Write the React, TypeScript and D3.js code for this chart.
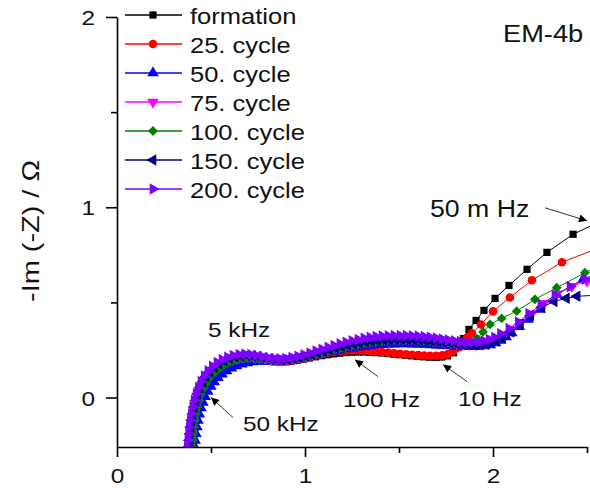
import React, { useEffect, useRef } from 'react';
import * as d3 from 'd3';

// axis ticks
const xTicks = [0, 1, 2];
const xMinorTicks = [0.5, 1.5, 2.5];
const yTicks = [0, 1, 2];
const yMinorTicks = [0.5, 1.5];

// Nyquist data, [Re(Z), -Im(Z)] in Ohm
const formation: [number, number][] = [
  [0.404, -0.26], [0.407, -0.225], [0.411, -0.19], [0.415, -0.155], [0.42, -0.12], [0.426, -0.085], [0.433, -0.05],
  [0.442, -0.015], [0.452, 0.016], [0.464, 0.045], [0.479, 0.073], [0.496, 0.098], [0.516, 0.121], [0.539, 0.141],
  [0.564, 0.158], [0.591, 0.172], [0.62, 0.183], [0.65, 0.19], [0.68, 0.194], [0.711, 0.196], [0.742, 0.195],
  [0.773, 0.193], [0.804, 0.19], [0.835, 0.188], [0.866, 0.187], [0.897, 0.188], [0.928, 0.191], [0.96, 0.196],
  [0.992, 0.202], [1.024, 0.208], [1.056, 0.214], [1.088, 0.22], [1.12, 0.225], [1.152, 0.229], [1.184, 0.233],
  [1.216, 0.236], [1.248, 0.238], [1.28, 0.239], [1.312, 0.239], [1.344, 0.238], [1.376, 0.236], [1.408, 0.234],
  [1.44, 0.231], [1.472, 0.228], [1.504, 0.225], [1.536, 0.222], [1.568, 0.219], [1.6, 0.216], [1.632, 0.214],
  [1.664, 0.212], [1.696, 0.211], [1.728, 0.213], [1.757, 0.219], [1.79, 0.235], [1.815, 0.265], [1.843, 0.31],
  [1.872, 0.358], [1.91, 0.405], [1.952, 0.458], [2.011, 0.521], [2.085, 0.589], [2.181, 0.674], [2.287, 0.763],
  [2.426, 0.858], [2.55, 0.916],
];

const cycle25: [number, number][] = [
  [0.406, -0.26], [0.409, -0.225], [0.413, -0.19], [0.417, -0.155], [0.422, -0.12], [0.428, -0.085], [0.435, -0.05],
  [0.444, -0.015], [0.454, 0.016], [0.466, 0.046], [0.481, 0.074], [0.498, 0.1], [0.518, 0.123], [0.541, 0.143],
  [0.566, 0.161], [0.593, 0.175], [0.622, 0.186], [0.652, 0.193], [0.682, 0.197], [0.713, 0.199], [0.744, 0.198],
  [0.775, 0.196], [0.806, 0.193], [0.837, 0.191], [0.868, 0.19], [0.899, 0.191], [0.93, 0.195], [0.962, 0.2],
  [0.994, 0.207], [1.026, 0.214], [1.058, 0.221], [1.09, 0.228], [1.122, 0.234], [1.154, 0.239], [1.186, 0.243],
  [1.218, 0.246], [1.25, 0.247], [1.282, 0.247], [1.314, 0.246], [1.346, 0.244], [1.378, 0.242], [1.41, 0.239],
  [1.442, 0.236], [1.474, 0.233], [1.506, 0.23], [1.538, 0.227], [1.57, 0.225], [1.602, 0.223], [1.634, 0.221],
  [1.666, 0.22], [1.698, 0.22], [1.73, 0.222], [1.76, 0.228], [1.788, 0.242], [1.812, 0.262], [1.836, 0.29],
  [1.862, 0.315], [1.888, 0.337], [1.936, 0.384], [2.0, 0.453], [2.09, 0.526], [2.207, 0.616], [2.367, 0.711],
  [2.55, 0.781],
];

const cycle50: [number, number][] = [
  [0.413, -0.26], [0.416, -0.225], [0.42, -0.19], [0.425, -0.155], [0.431, -0.12], [0.438, -0.087], [0.447, -0.055],
  [0.457, -0.025], [0.469, 0.004], [0.483, 0.032], [0.499, 0.058], [0.517, 0.082], [0.537, 0.104], [0.559, 0.123],
  [0.583, 0.14], [0.609, 0.154], [0.636, 0.166], [0.664, 0.175], [0.693, 0.182], [0.722, 0.187], [0.752, 0.19],
  [0.782, 0.191], [0.812, 0.191], [0.842, 0.191], [0.872, 0.191], [0.902, 0.193], [0.933, 0.197], [0.964, 0.202],
  [0.996, 0.208], [1.028, 0.215], [1.06, 0.222], [1.092, 0.229], [1.124, 0.236], [1.156, 0.243], [1.188, 0.249],
  [1.22, 0.255], [1.252, 0.26], [1.284, 0.265], [1.316, 0.269], [1.348, 0.273], [1.38, 0.276], [1.412, 0.278],
  [1.444, 0.28], [1.476, 0.281], [1.508, 0.282], [1.54, 0.282], [1.572, 0.281], [1.604, 0.28], [1.636, 0.279],
  [1.668, 0.277], [1.7, 0.275], [1.732, 0.273], [1.764, 0.271], [1.796, 0.269], [1.828, 0.268], [1.86, 0.267],
  [1.892, 0.267], [1.924, 0.268], [1.956, 0.271], [1.986, 0.277], [2.014, 0.287], [2.04, 0.3], [2.07, 0.318],
  [2.1, 0.34], [2.14, 0.372], [2.186, 0.41], [2.25, 0.463], [2.34, 0.542], [2.479, 0.621], [2.55, 0.65],
];

const cycle75: [number, number][] = [
  [0.389, -0.26], [0.392, -0.225], [0.396, -0.19], [0.4, -0.155], [0.405, -0.12], [0.411, -0.085], [0.418, -0.05],
  [0.427, -0.015], [0.437, 0.018], [0.449, 0.049], [0.464, 0.078], [0.481, 0.105], [0.501, 0.13], [0.524, 0.152],
  [0.549, 0.171], [0.576, 0.187], [0.605, 0.199], [0.635, 0.208], [0.665, 0.213], [0.696, 0.215], [0.727, 0.214],
  [0.758, 0.21], [0.789, 0.205], [0.82, 0.2], [0.851, 0.197], [0.882, 0.196], [0.913, 0.198], [0.945, 0.203],
  [0.977, 0.21], [1.009, 0.218], [1.041, 0.227], [1.073, 0.236], [1.105, 0.245], [1.137, 0.254], [1.169, 0.262],
  [1.201, 0.27], [1.233, 0.277], [1.265, 0.284], [1.297, 0.29], [1.329, 0.295], [1.361, 0.299], [1.393, 0.303],
  [1.425, 0.306], [1.457, 0.308], [1.489, 0.309], [1.521, 0.309], [1.553, 0.309], [1.585, 0.308], [1.617, 0.306],
  [1.649, 0.303], [1.681, 0.3], [1.713, 0.296], [1.745, 0.292], [1.777, 0.288], [1.809, 0.284], [1.841, 0.281],
  [1.873, 0.279], [1.905, 0.279], [1.937, 0.281], [1.966, 0.286], [1.994, 0.294], [2.02, 0.305], [2.055, 0.325],
  [2.1, 0.356], [2.15, 0.395], [2.205, 0.44], [2.27, 0.495], [2.34, 0.545], [2.42, 0.585], [2.5, 0.612],
  [2.55, 0.625],
];

const cycle100: [number, number][] = [
  [0.399, -0.26], [0.402, -0.225], [0.406, -0.19], [0.41, -0.155], [0.415, -0.12], [0.421, -0.085], [0.428, -0.05],
  [0.437, -0.015], [0.447, 0.017], [0.459, 0.047], [0.474, 0.075], [0.491, 0.101], [0.511, 0.125], [0.534, 0.146],
  [0.559, 0.164], [0.586, 0.179], [0.615, 0.191], [0.645, 0.199], [0.675, 0.204], [0.706, 0.206], [0.737, 0.205],
  [0.768, 0.202], [0.799, 0.198], [0.83, 0.194], [0.861, 0.192], [0.892, 0.192], [0.923, 0.195], [0.955, 0.2],
  [0.987, 0.206], [1.019, 0.213], [1.051, 0.221], [1.083, 0.229], [1.115, 0.237], [1.147, 0.245], [1.179, 0.253],
  [1.211, 0.26], [1.243, 0.267], [1.275, 0.273], [1.307, 0.279], [1.339, 0.284], [1.371, 0.288], [1.403, 0.291],
  [1.435, 0.294], [1.467, 0.296], [1.499, 0.297], [1.531, 0.297], [1.563, 0.297], [1.595, 0.296], [1.627, 0.294],
  [1.659, 0.292], [1.691, 0.289], [1.723, 0.286], [1.755, 0.283], [1.787, 0.28], [1.819, 0.278], [1.851, 0.277],
  [1.888, 0.285], [1.915, 0.31], [1.947, 0.345], [1.984, 0.384], [2.046, 0.416], [2.126, 0.454], [2.223, 0.516],
  [2.339, 0.577], [2.489, 0.656], [2.55, 0.685],
];

const cycle150: [number, number][] = [
  [0.382, -0.26], [0.385, -0.225], [0.389, -0.19], [0.393, -0.155], [0.398, -0.12], [0.404, -0.085], [0.411, -0.05],
  [0.42, -0.015], [0.43, 0.02], [0.442, 0.052], [0.457, 0.082], [0.474, 0.11], [0.494, 0.136], [0.517, 0.159],
  [0.542, 0.178], [0.569, 0.194], [0.598, 0.206], [0.628, 0.214], [0.658, 0.219], [0.689, 0.221], [0.72, 0.219],
  [0.751, 0.215], [0.782, 0.209], [0.813, 0.204], [0.844, 0.2], [0.875, 0.199], [0.906, 0.2], [0.938, 0.205],
  [0.97, 0.211], [1.002, 0.218], [1.034, 0.226], [1.066, 0.235], [1.098, 0.244], [1.13, 0.252], [1.162, 0.26],
  [1.194, 0.268], [1.226, 0.275], [1.258, 0.281], [1.29, 0.287], [1.322, 0.292], [1.354, 0.296], [1.386, 0.299],
  [1.418, 0.302], [1.45, 0.304], [1.482, 0.305], [1.514, 0.305], [1.546, 0.305], [1.578, 0.304], [1.61, 0.302],
  [1.642, 0.3], [1.674, 0.297], [1.706, 0.294], [1.738, 0.29], [1.77, 0.287], [1.802, 0.284], [1.834, 0.281],
  [1.866, 0.279], [1.898, 0.278], [1.93, 0.279], [1.96, 0.282], [1.988, 0.288], [2.015, 0.297], [2.05, 0.315],
  [2.095, 0.345], [2.145, 0.385], [2.2, 0.43], [2.26, 0.475], [2.325, 0.505], [2.39, 0.522], [2.447, 0.532],
  [2.55, 0.538],
];

const cycle200: [number, number][] = [
  [0.374, -0.26], [0.377, -0.225], [0.381, -0.19], [0.385, -0.155], [0.39, -0.12], [0.396, -0.085], [0.403, -0.05],
  [0.411, -0.015], [0.421, 0.02], [0.433, 0.053], [0.447, 0.084], [0.464, 0.113], [0.484, 0.14], [0.507, 0.164],
  [0.532, 0.184], [0.559, 0.2], [0.588, 0.212], [0.618, 0.221], [0.649, 0.226], [0.68, 0.228], [0.711, 0.226],
  [0.742, 0.221], [0.773, 0.215], [0.804, 0.209], [0.835, 0.205], [0.866, 0.203], [0.897, 0.205], [0.93, 0.21],
  [0.962, 0.217], [0.994, 0.225], [1.026, 0.234], [1.058, 0.244], [1.09, 0.254], [1.122, 0.264], [1.154, 0.273],
  [1.186, 0.282], [1.218, 0.29], [1.25, 0.298], [1.282, 0.305], [1.314, 0.311], [1.346, 0.316], [1.378, 0.32],
  [1.41, 0.323], [1.442, 0.325], [1.474, 0.326], [1.506, 0.326], [1.538, 0.326], [1.57, 0.325], [1.602, 0.323],
  [1.634, 0.32], [1.666, 0.317], [1.698, 0.313], [1.73, 0.308], [1.762, 0.303], [1.794, 0.298], [1.826, 0.294],
  [1.858, 0.291], [1.89, 0.29], [1.922, 0.292], [1.952, 0.297], [1.98, 0.305], [2.008, 0.317], [2.04, 0.335],
  [2.085, 0.362], [2.135, 0.397], [2.19, 0.44], [2.255, 0.488], [2.33, 0.538], [2.41, 0.583], [2.49, 0.622],
  [2.55, 0.65],
];

const seriesNames = ['formation', '25. cycle', '50. cycle', '75. cycle', '100. cycle', '150. cycle', '200. cycle'];
const seriesData = [formation, cycle25, cycle50, cycle75, cycle100, cycle150, cycle200];
const seriesColors = ['#000000', '#ff0000', '#0000ff', '#ff00ff', '#008000', '#000080', '#8000ff'];
const seriesShapes = ['square', 'circle', 'up', 'down', 'diamond', 'left', 'right'];

const FONT = "'Liberation Sans', Arial, Helvetica, sans-serif";
const SX = 1.16; // the original lettering is a bit wide

// symbol path + rotation for each marker kind
function markerPath(shape: string) {
  const tri = d3.symbol().type(d3.symbolTriangle).size(58)();
  switch (shape) {
    case 'square': return { d: d3.symbol().type(d3.symbolSquare).size(52)(), rot: 0 };
    case 'circle': return { d: d3.symbol().type(d3.symbolCircle).size(58)(), rot: 0 };
    case 'diamond': return { d: d3.symbol().type(d3.symbolSquare).size(48)(), rot: 45 };
    case 'down': return { d: tri, rot: 180 };
    case 'left': return { d: tri, rot: -90 };
    case 'right': return { d: tri, rot: 90 };
    default: return { d: tri, rot: 0 };
  }
}

function addText(parent: any, px: number, py: number, str: string, size: number, anchor = 'start') {
  parent.append('text')
    .attr('transform', `translate(${px},${py}) scale(${SX},1)`)
    .attr('text-anchor', anchor)
    .attr('font-family', FONT)
    .attr('font-size', size)
    .attr('fill', '#111')
    .text(str);
}

export default function App() {
  const svgRef = useRef<SVGSVGElement>(null);

  useEffect(() => {
    const svg = d3.select(svgRef.current);
    svg.selectAll('*').remove();

    const x = d3.scaleLinear().domain([0, 2.5]).range([117, 587]);
    const y = d3.scaleLinear().domain([-0.26, 2]).range([447, 17]);
    const x0 = x(0);
    const yB = y(-0.26);

    const defs = svg.append('defs');
    defs.append('clipPath').attr('id', 'plotClip')
      .append('rect').attr('x', x0).attr('y', 0).attr('width', 600 - x0).attr('height', yB);
    defs.append('marker')
      .attr('id', 'arrowHead')
      .attr('viewBox', '0 0 10 10')
      .attr('refX', 10).attr('refY', 5)
      .attr('markerWidth', 11).attr('markerHeight', 8)
      .attr('markerUnits', 'userSpaceOnUse')
      .attr('orient', 'auto')
      .append('path').attr('d', 'M0,0 L10,5 L0,10 z').attr('fill', '#000');

    // ---- series
    const plot = svg.append('g').attr('clip-path', 'url(#plotClip)');
    const line = d3.line<[number, number]>().x(d => x(d[0])).y(d => y(d[1]));

    seriesData.forEach((data, i) => {
      const g = plot.append('g');
      g.append('path')
        .attr('d', line(data))
        .attr('fill', 'none')
        .attr('stroke', seriesColors[i])
        .attr('stroke-width', 1);
      const m = markerPath(seriesShapes[i]);
      g.selectAll('path.pt')
        .data(data)
        .enter()
        .append('path')
        .attr('class', 'pt')
        .attr('d', m.d)
        .attr('transform', d => `translate(${x(d[0])},${y(d[1])}) rotate(${m.rot})`)
        .attr('fill', seriesColors[i]);
    });

    // ---- axes
    const styleAxis = (g: any) => {
      g.select('.domain').attr('stroke', '#000').attr('stroke-width', 1.6);
      g.selectAll('.tick line').attr('stroke', '#000').attr('stroke-width', 1.6);
    };

    const xAxis = svg.append('g').attr('transform', `translate(0,${yB})`)
      .call(d3.axisBottom(x).tickValues(xTicks).tickSize(10).tickSizeOuter(0).tickFormat(d3.format('d')));
    styleAxis(xAxis);
    xAxis.selectAll('.tick text')
      .attr('y', 0).attr('dy', null)
      .attr('transform', `translate(0,36) scale(${SX},1)`)
      .attr('font-family', FONT).attr('font-size', 21).attr('fill', '#111');

    const xMinor = svg.append('g').attr('transform', `translate(0,${yB})`)
      .call(d3.axisBottom(x).tickValues(xMinorTicks).tickSize(6).tickSizeOuter(0).tickFormat(() => ''));
    xMinor.select('.domain').remove();
    styleAxis(xMinor);

    const yAxis = svg.append('g').attr('transform', `translate(${x0},0)`)
      .call(d3.axisLeft(y).tickValues(yTicks).tickSize(11).tickSizeOuter(0).tickFormat(d3.format('d')));
    styleAxis(yAxis);
    yAxis.selectAll('.tick text')
      .attr('x', 0).attr('dy', '0.36em')
      .attr('transform', `translate(-22,0) scale(${SX},1)`)
      .attr('font-family', FONT).attr('font-size', 21).attr('fill', '#111');

    const yMinor = svg.append('g').attr('transform', `translate(${x0},0)`)
      .call(d3.axisLeft(y).tickValues(yMinorTicks).tickSize(6).tickSizeOuter(0).tickFormat(() => ''));
    yMinor.select('.domain').remove();
    styleAxis(yMinor);

    // y title
    svg.append('text')
      .attr('transform', `translate(39,231) rotate(-90)`)
      .attr('text-anchor', 'middle')
      .attr('font-family', FONT)
      .attr('font-size', 24)
      .attr('textLength', 142)
      .attr('lengthAdjust', 'spacingAndGlyphs')
      .attr('fill', '#111')
      .text('-Im (-Z) / \u03A9');

    // ---- legend
    const legend = svg.append('g');
    seriesNames.forEach((name, i) => {
      const ly = 15 + i * 29;
      legend.append('line')
        .attr('x1', 125).attr('x2', 182).attr('y1', ly).attr('y2', ly)
        .attr('stroke', seriesColors[i]).attr('stroke-width', 1.5);
      const m = markerPath(seriesShapes[i]);
      legend.append('path')
        .attr('d', m.d)
        .attr('transform', `translate(153,${ly}) rotate(${m.rot})`)
        .attr('fill', seriesColors[i]);
      addText(legend, 190, ly + 9, name, 22);
    });

    // ---- labels and arrows
    addText(svg, x(2.053), y(1.869), 'EM-4b', 23.5);
    addText(svg, x(1.665), y(0.95), '50 m Hz', 23);
    addText(svg, x(0.484), y(0.32), '5 kHz', 21);
    addText(svg, x(0.67), y(-0.178), '50 kHz', 21);
    addText(svg, x(1.202), y(-0.052), '100 Hz', 21);
    addText(svg, x(1.814), y(-0.042), '10 Hz', 21);

    const arrows: [number, number, number, number][] = [
      [2.277, 0.997, 2.5, 0.929],
      [0.617, -0.105, 0.5, 0.0],
      [1.388, 0.11, 1.266, 0.199],
      [1.862, 0.084, 1.734, 0.173],
    ];
    arrows.forEach(([ax, ay, bx, by]) => {
      svg.append('line')
        .attr('x1', x(ax)).attr('y1', y(ay))
        .attr('x2', x(bx)).attr('y2', y(by))
        .attr('stroke', '#333').attr('stroke-width', 1)
        .attr('marker-end', 'url(#arrowHead)');
    });
  }, []);

  return (
    <svg
      ref={svgRef}
      width={590}
      height={495}
      style={{ position: 'absolute', left: 0, top: 0, background: '#fff' }}
    />
  );
}
